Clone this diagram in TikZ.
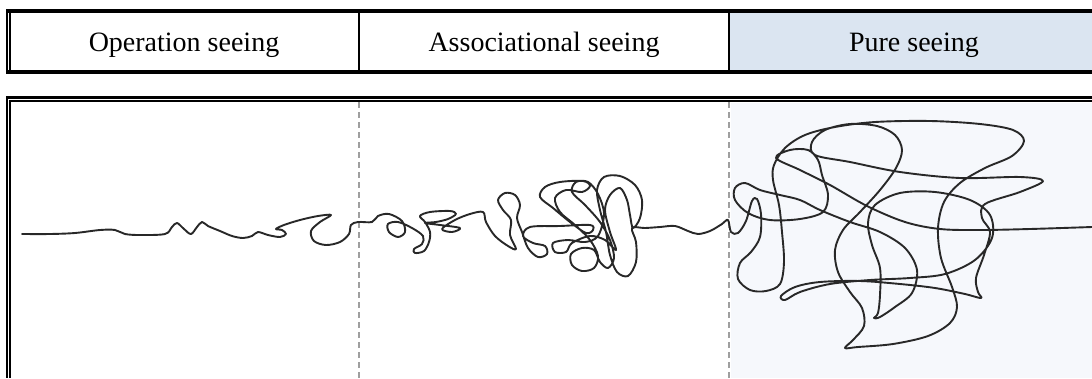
\documentclass[tikz,border=0pt]{standalone}
\usepackage{fontspec}
\setmainfont{Liberation Serif}
\definecolor{headfill}{RGB}{219,229,241}
\definecolor{panefill}{RGB}{246,248,252}
\definecolor{inkline}{RGB}{40,40,40}
\begin{document}
\begin{tikzpicture}[x=1pt,y=-1pt,
  heading/.style={font=\fontsize{28}{32}\selectfont, inner sep=0pt, anchor=base},
  divider/.style={draw=gray!75, line width=1.2pt, dash pattern=on 6pt off 4pt},
  scribble/.style={draw=inkline, line width=1.9pt, line join=round, line cap=round}]
\useasboundingbox (0,0) rectangle (1092,378);
\fill[white] (0,0) rectangle (1092,378);

% ---- header row ----
\fill[headfill] (729,11) rectangle (1092,72);
\draw[line width=3.5pt] (6,10.8) -- (1092,10.8);
\draw[line width=3.8pt] (6,72) -- (1092,72);
\draw[line width=2pt] (7,9) -- (7,74);
\draw[line width=2pt] (10.3,9) -- (10.3,74);
\draw[line width=2.5pt] (359,11) -- (359,72);
\draw[line width=2.5pt] (729,11) -- (729,72);
\node[heading] (op) at (184,51) {Operation seeing};
\node[heading] (as) at (544,51) {Associational seeing};
\node[heading] (pu) at (914,51) {Pure seeing};

% ---- lower pane ----
\fill[panefill] (731,103) rectangle (1092,378);
\draw[line width=2.7pt] (6,97.8) -- (1092,97.8);
\draw[line width=1.5pt] (9.3,101) -- (1092,101);
\draw[line width=2pt] (7,96.5) -- (7,378);
\draw[line width=2pt] (10.3,100.3) -- (10.3,378);
\coordinate (d1t) at (359,102); \coordinate (d1b) at (359,378);
\coordinate (d2t) at (729,102); \coordinate (d2b) at (729,378);
\draw[divider] (d1t) -- (d1b);
\draw[divider] (d2t) -- (d2b);

% ---- the scribbled line ----
\draw[scribble] plot[smooth, tension=0.55] coordinates {
 (22,234) (50,234) (75,233) (100,230) (115,230) (125,234) (140,235) (165,234)
 (172,227) (177,223) (184,229) (191,234) (197,227) (202,222) (208,226) (220,231)
 (232,236) (243,238) (252,236) (258,232) (268,235) (280,237) (286,234) (282,230)
 (276,229) (284,225) (300,220) (318,216) (331,215) (320,222) (311,231) (314,241)
 (326,245) (340,242) (349,234) (351,225) (358,222) (372,222)
 (378,216) (389,214) (402,221) (405,232) (398,237) (389,232) (388,224) (398,222)
 (412,228) (423,236) (422,244) (414,249) (415,253) (424,251) (429,242) (430,232)
 (425,222) (420,216) (430,212) (450,211) (456,214) (448,219) (436,222) (425,223)
 (440,225) (460,228) (452,232) (442,229) (455,220) (470,214) (483,212) (486,222)
 (495,236) (508,246) (516,249)
 (510,235) (511,220) (503,210) (498,200) (505,193) (515,195) (520,205) (517,218)
 (522,232) (528,248) (538,257) (547,254) (545,246) (533,243) (523,236) (530,227)
 (560,226) (590,225) (593,230) (586,233) (570,222) (553,208) (540,197) (545,187)
 (560,182) (583,181) (590,186) (582,192) (566,190) (555,198) (560,212) (575,225)
 (590,240) (598,256) (594,268) (582,271) (572,265) (571,254) (582,248) (594,250)
 (600,262) (608,268) (614,258) (610,240) (600,222) (585,205) (572,192) (576,182)
 (588,182) (598,194) (604,214) (598,236) (585,242) (568,240) (553,243) (555,252)
 (566,252) (572,243) (590,236) (605,240) (616,250)
 (610,232) (605,210) (610,195) (620,188) (627,200) (630,215) (633,228)
 (640,218) (642,200) (635,185) (620,176) (604,177) (597,190) (600,210) (606,232)
 (610,255) (617,272) (628,276) (636,262) (636,242) (632,228) (645,228) (660,227)
 (675,226) (688,231) (698,234) (710,231) (722,224) (728,220)
 (731,232) (738,233) (746,221) (752,201) (757,199) (761,214) (760,237) (751,252)
 (740,263) (738,279) (750,290) (766,291) (780,284) (784,262) (782,232) (779,205)
 (773,180) (774,165)
 (785,148) (805,135) (835,127) (875,122) (930,121) (980,124) (1013,130) (1024,141)
 (1012,156) (985,168) (960,183) (944,202) (938,228) (941,258) (952,287) (957,307)
 (950,323) (928,336) (893,344) (858,347) (845,348)
 (853,340) (864,326) (862,308) (850,292) (838,272) (835,250) (843,230) (860,212)
 (880,190) (896,168) (902,150) (895,135) (877,126) (850,124) (825,130) (812,142)
 (815,155)
 (850,162) (900,172) (960,178) (1020,177) (1043,181) (1020,192) (985,204) (982,218)
 (990,232) (984,255) (976,278) (978,292) (981,298) (965,294) (935,288) (900,284)
 (860,281) (820,282) (795,287) (781,296) (785,300) (800,292) (830,284) (870,280)
 (910,278) (945,274) (975,260) (992,238) (990,215) (970,200) (935,192) (900,193)
 (875,205) (868,223) (872,245) (880,268) (880,295) (878,313) (874,318) (880,317)
 (895,307) (912,293) (917,270) (905,248) (880,232) (850,222) (820,210) (800,200)
 (780,195) (760,190) (745,183) (735,188) (735,200) (748,213) (770,220) (800,219)
 (823,212) (828,195) (822,175) (818,160) (808,150) (790,150) (776,158)
 (800,170) (830,185) (867,206) (905,222) (940,229) (980,230) (1030,229) (1092,227)
};
\end{tikzpicture}
\end{document}
